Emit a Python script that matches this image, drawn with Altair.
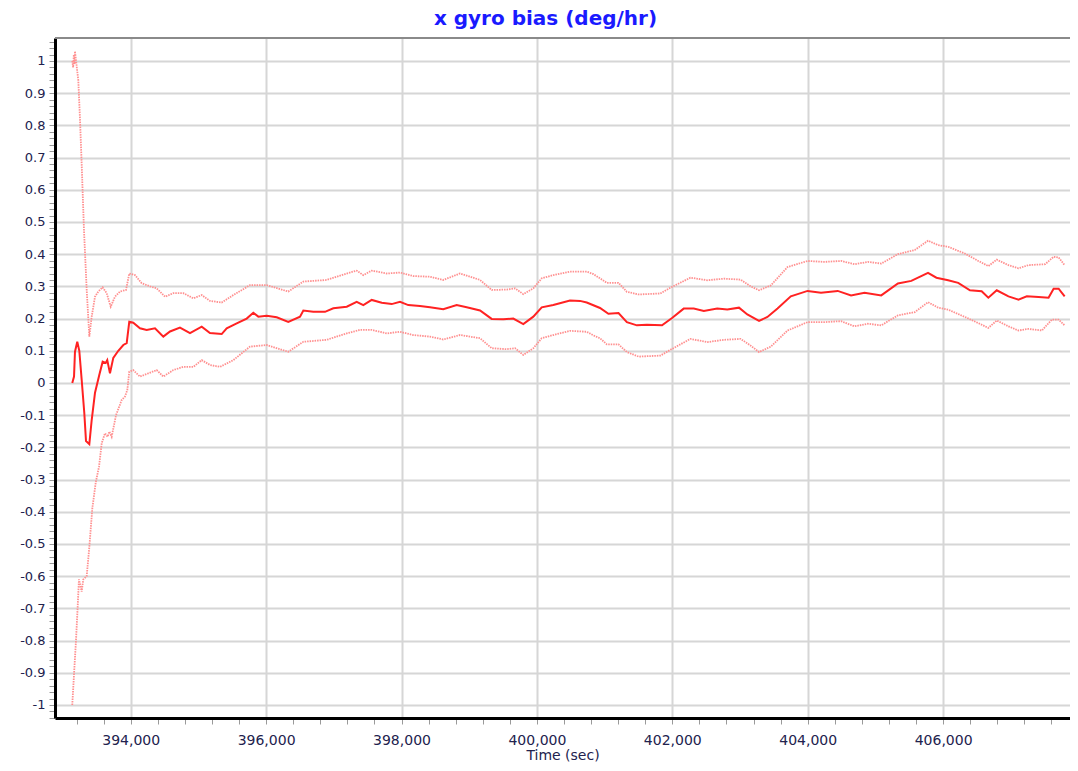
import altair as alt
import pandas as pd

# ---- data (time in sec, bias in deg/hr) ----
center_t = [393137, 393163, 393177, 393211, 393241, 393276, 393315, 393340, 393389, 393424,
            393473, 393536, 393586, 393631, 393654, 393694, 393743, 393817, 393891, 393941,
            393979, 394038, 394137, 394236, 394359, 394482, 394581, 394728, 394876, 395049,
            395171, 395344, 395418, 395566, 395713, 395811, 395885, 396009, 396157, 396328,
            396501, 396550, 396697, 396870, 396993, 397191, 397338, 397436, 397560, 397708,
            397855, 397978, 398100, 398273, 398421, 398617, 398815, 398963, 399160, 399332,
            399504, 399651, 399799, 399947, 400071, 400242, 400489, 400637, 400736, 400932,
            401056, 401205, 401329, 401477, 401625, 401848, 401996, 402168, 402318, 402465,
            402663, 402812, 402985, 403108, 403281, 403405, 403554, 403750, 403998, 404196,
            404443, 404640, 404839, 405086, 405332, 405530, 405777, 405901, 406074, 406223,
            406396, 406569, 406668, 406792, 406965, 407112, 407236, 407409, 407557, 407632,
            407706, 407795]
center_v = [0.0, 0.02, 0.097, 0.128, 0.10, 0.01, -0.094, -0.18, -0.19, -0.115,
            -0.03, 0.025, 0.066, 0.062, 0.071, 0.03, 0.078, 0.10, 0.118, 0.124,
            0.19, 0.187, 0.17, 0.165, 0.17, 0.144, 0.16, 0.172, 0.155, 0.175,
            0.155, 0.152, 0.17, 0.185, 0.20, 0.218, 0.206, 0.209, 0.204, 0.19,
            0.206, 0.225, 0.221, 0.221, 0.232, 0.237, 0.252, 0.242, 0.258, 0.249,
            0.245, 0.252, 0.242, 0.239, 0.235, 0.229, 0.242, 0.235, 0.225, 0.199,
            0.198, 0.20, 0.183, 0.206, 0.235, 0.242, 0.256, 0.255, 0.25, 0.233,
            0.215, 0.217, 0.189, 0.179, 0.181, 0.179, 0.202, 0.231, 0.231, 0.224,
            0.231, 0.228, 0.234, 0.213, 0.193, 0.205, 0.231, 0.269, 0.286, 0.28,
            0.286, 0.272, 0.28, 0.272, 0.309, 0.317, 0.342, 0.327, 0.319, 0.311,
            0.288, 0.285, 0.265, 0.288, 0.269, 0.259, 0.269, 0.267, 0.265, 0.293,
            0.293, 0.269]

upper_t = [393137, 393150, 393160, 393170, 393177, 393226, 393251, 393276, 393310, 393350,
           393389, 393424, 393473, 393521, 393586, 393645, 393705, 393768, 393842, 393931,
           393979, 394064, 394162, 394285, 394384, 394507, 394629, 394777, 394925, 395049,
           395171, 395344, 395516, 395762, 396009, 396328, 396550, 396895, 397191, 397338,
           397436, 397560, 397781, 397978, 398174, 398421, 398617, 398864, 399160, 399332,
           399554, 399677, 399799, 399947, 400071, 400242, 400489, 400736, 400834, 400932,
           401033, 401205, 401329, 401502, 401823, 401972, 402267, 402516, 402762, 403009,
           403158, 403281, 403455, 403702, 403998, 404245, 404492, 404690, 404888, 405086,
           405332, 405581, 405777, 405926, 406074, 406322, 406520, 406668, 406792, 406965,
           407112, 407261, 407508, 407632, 407706, 407795]
upper_v = [1.0, 0.98, 1.02, 0.99, 1.03, 0.94, 0.82, 0.68, 0.475, 0.29,
           0.144, 0.206, 0.268, 0.284, 0.297, 0.279, 0.237, 0.268, 0.284, 0.289,
           0.34, 0.335, 0.31, 0.30, 0.294, 0.268, 0.279, 0.279, 0.263, 0.273,
           0.255, 0.25, 0.273, 0.304, 0.304, 0.284, 0.315, 0.32, 0.34, 0.349,
           0.335, 0.349, 0.34, 0.343, 0.332, 0.33, 0.32, 0.34, 0.32, 0.289,
           0.29, 0.294, 0.276, 0.294, 0.325, 0.335, 0.346, 0.346, 0.338, 0.325,
           0.311, 0.311, 0.283, 0.275, 0.278, 0.296, 0.327, 0.319, 0.324, 0.321,
           0.30, 0.288, 0.303, 0.36, 0.379, 0.376, 0.379, 0.369, 0.376, 0.371,
           0.40, 0.413, 0.442, 0.428, 0.423, 0.402, 0.379, 0.363, 0.383, 0.366,
           0.356, 0.366, 0.369, 0.392, 0.39, 0.366]

lower_t = [393137, 393167, 393192, 393217, 393236, 393276, 393300, 393350, 393389, 393433,
           393483, 393532, 393572, 393620, 393660, 393684, 393719, 393783, 393867, 393916,
           393950, 393979, 394038, 394137, 394260, 394384, 394482, 394629, 394777, 394925,
           395049, 395171, 395319, 395516, 395762, 396009, 396328, 396550, 396895, 397191,
           397387, 397560, 397781, 397978, 398174, 398421, 398617, 398864, 399160, 399332,
           399554, 399677, 399799, 399947, 400071, 400242, 400489, 400736, 400834, 400932,
           401033, 401205, 401329, 401502, 401823, 401972, 402267, 402516, 402762, 403009,
           403158, 403281, 403455, 403702, 403998, 404245, 404492, 404690, 404888, 405086,
           405332, 405581, 405777, 405926, 406074, 406322, 406520, 406668, 406792, 406965,
           407112, 407261, 407458, 407607, 407706, 407795]
lower_v = [-1.0, -0.89, -0.80, -0.695, -0.61, -0.648, -0.61, -0.60, -0.51, -0.39,
           -0.31, -0.26, -0.187, -0.156, -0.167, -0.151, -0.167, -0.10, -0.053, -0.042,
           -0.022, 0.035, 0.04, 0.02, 0.03, 0.04, 0.02, 0.04, 0.05, 0.05,
           0.071, 0.056, 0.05, 0.071, 0.113, 0.118, 0.097, 0.128, 0.134, 0.154,
           0.165, 0.165, 0.154, 0.159, 0.149, 0.144, 0.135, 0.149, 0.139, 0.108,
           0.105, 0.108, 0.087, 0.108, 0.139, 0.149, 0.162, 0.159, 0.148, 0.139,
           0.12, 0.12, 0.096, 0.082, 0.085, 0.103, 0.137, 0.127, 0.134, 0.137,
           0.116, 0.096, 0.113, 0.163, 0.189, 0.189, 0.192, 0.176, 0.184, 0.179,
           0.21, 0.22, 0.251, 0.234, 0.228, 0.205, 0.186, 0.171, 0.194, 0.176,
           0.163, 0.168, 0.163, 0.197, 0.197, 0.179]

x_domain = [392882, 407874]
y_domain = [-1.0404, 1.0714]
x_tick_values = [393200 + 400 * i for i in range(37)]          # minor every 400, labels every 2000
y_tick_values = [round(-1.04 + 0.02 * i, 2) for i in range(106)]  # minor every 0.02, labels every 0.1

title_text = "x gyro bias (deg/hr)"
x_title = "Time (sec)"

center_df = pd.DataFrame({"t": center_t, "v": center_v})
upper_df = pd.DataFrame({"t": upper_t, "v": upper_v})
lower_df = pd.DataFrame({"t": lower_t, "v": lower_v})

FONT = "DejaVu Sans"
LABEL_COLOR = "#22224e"
W, H = 1015, 680

xscale = alt.Scale(domain=x_domain, nice=False, zero=False)
yscale = alt.Scale(domain=y_domain, nice=False, zero=False)

x_axis = alt.Axis(
    values=x_tick_values,
    labelExpr="datum.value % 2000 === 0 ? format(datum.value, ',') : ''",
    labelOverlap=False,
    labelFlush=False,
    grid=True,
    gridColor="#d6d6d6",
    gridWidth=2,
    gridOpacity=alt.condition("datum.value % 2000 === 0", alt.value(1), alt.value(0)),
    domainColor="#000000",
    domainWidth=3,
    tickColor="#9a9a9a",
    tickSize=6,
    tickWidth=1,
    labelFont=FONT,
    labelFontSize=14,
    labelColor=LABEL_COLOR,
    labelPadding=9,
    title=x_title,
    titleFont=FONT,
    titleFontSize=14,
    titleFontWeight="normal",
    titleColor=LABEL_COLOR,
    titlePadding=1,
)

major_y = "abs(datum.value*10 - round(datum.value*10)) < 0.001 && abs(datum.value) <= 1.0001"
y_axis = alt.Axis(
    values=y_tick_values,
    labelExpr=f"({major_y}) ? toString(round(datum.value*10)/10) : ''",
    labelOverlap=False,
    labelFlush=False,
    grid=True,
    gridColor="#d6d6d6",
    gridWidth=2,
    gridOpacity=alt.condition(major_y, alt.value(1), alt.value(0)),
    domainColor="#000000",
    domainWidth=3,
    tickColor="#9a9a9a",
    tickSize=6,
    tickWidth=1,
    labelFont=FONT,
    labelFontSize=13,
    labelColor=LABEL_COLOR,
    labelPadding=4,
    title=None,
)

# top frame line of the plot area (decoration)
top_border = alt.Chart().mark_rule(color="#8a8a8a", strokeWidth=2).encode(
    x=alt.value(0), x2=alt.value(W), y=alt.value(0)
)

upper = alt.Chart(upper_df).mark_line(
    color="#ff9090", strokeWidth=1.8, strokeDash=[1.5, 1]
).encode(
    x=alt.X("t:Q", scale=xscale, axis=None),
    y=alt.Y("v:Q", scale=yscale, axis=None),
)

lower = alt.Chart(lower_df).mark_line(
    color="#ff9090", strokeWidth=1.8, strokeDash=[1.5, 1]
).encode(
    x=alt.X("t:Q", scale=xscale, axis=None),
    y=alt.Y("v:Q", scale=yscale, axis=None),
)

center = alt.Chart(center_df).mark_line(color="#ff2222", strokeWidth=2).encode(
    x=alt.X("t:Q", scale=xscale, axis=x_axis),
    y=alt.Y("v:Q", scale=yscale, axis=y_axis),
)

chart = (
    alt.layer(upper, lower, center, top_border)
    .resolve_axis(x="independent", y="independent")
    .properties(
        width=W,
        height=H,
        autosize=alt.AutoSizeParams(type="none"),
        padding={"left": 47, "top": 30, "right": 0, "bottom": 46},
        title=alt.TitleParams(
            text=title_text,
            font=FONT,
            fontSize=20,
            fontWeight="bold",
            color="#1a1aff",
            anchor="middle",
            offset=7,
            dx=-17,
        ),
    )
    .configure_view(stroke=None)
    .configure(background="white")
)

chart.save("out.html", embed_options={"renderer": "svg", "actions": False})
